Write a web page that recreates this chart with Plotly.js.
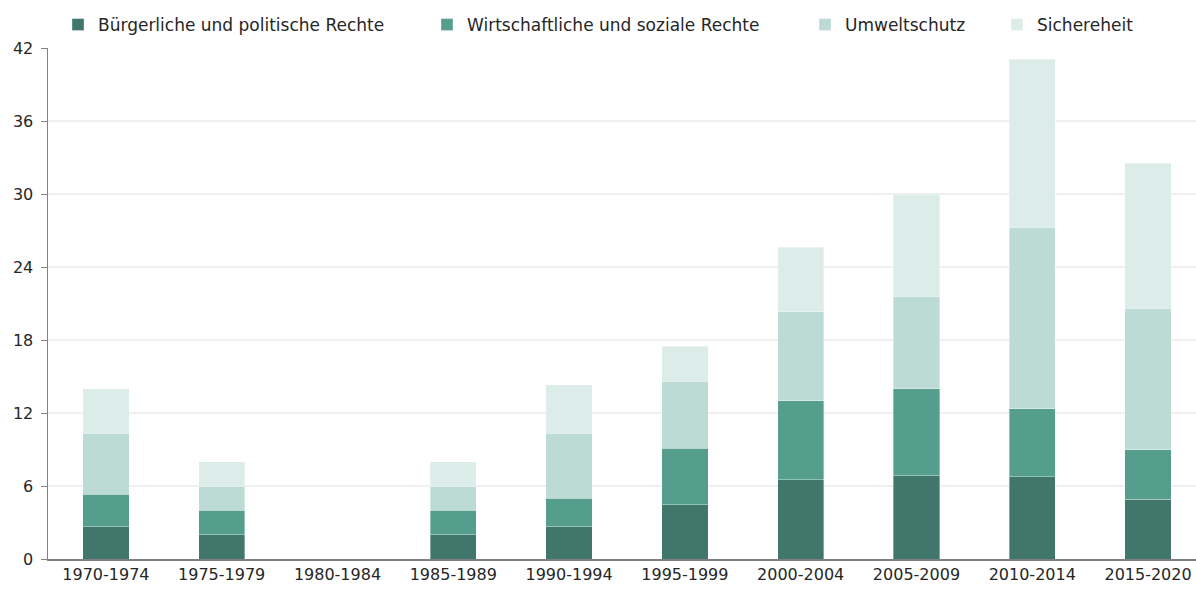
<!DOCTYPE html>
<html>
<head>
<meta charset="utf-8">
<script src="https://cdn.plot.ly/plotly-3.0.1.min.js"></script>
<style>
html,body{margin:0;padding:0;background:#fff;}
#chart{width:1196px;height:590px;}
</style>
</head>
<body>
<div id="chart"></div>
<script>
const categories = ['1970-1974','1975-1979','1980-1984','1985-1989','1990-1994','1995-1999','2000-2004','2005-2009','2010-2014','2015-2020'];
const seriesNames = ['Bürgerliche und politische Rechte','Wirtschaftliche und soziale Rechte','Umweltschutz','Sichereheit'];
const buergerlich = [2.67, 2, 0, 2, 2.67, 4.47, 6.5, 6.83, 6.75, 4.93];
const wirtschaft  = [2.67, 2, 0, 2, 2.33, 4.65, 6.5, 7.17, 5.6, 4.06];
const umwelt      = [5.0, 2, 0, 2, 5.33, 5.5, 7.33, 7.6, 14.93, 11.62];
const sicherheit  = [3.67, 2, 0, 2, 4.0, 2.85, 5.3, 8.4, 13.8, 11.9];
const yTicks = [0, 6, 12, 18, 24, 30, 36, 42];

const colors = ['#41766c', '#559e8e', '#bcdbd5', '#dcece8'];
const values = [buergerlich, wirtschaft, umwelt, sicherheit];
const legendIds = ['legend', 'legend2', 'legend3', 'legend4'];
const legendX = [58, 427, 805, 997]; // pixel positions of legend boxes

const plotLeft = 48, plotWidth = 1148;
const font = {family: 'DejaVu Sans, sans-serif', size: 16, color: '#262626'};
const legendFont = {family: 'DejaVu Sans, sans-serif', size: 17, color: '#262626'};

const traces = values.map((v, i) => ({
  type: 'bar',
  name: seriesNames[i],
  x: categories,
  y: v,
  marker: {color: colors[i], line: {color: 'rgba(255,255,255,0.6)', width: 0.6}},
  legend: legendIds[i],
  hoverinfo: 'x+y+name'
}));

const layout = {
  width: 1196, height: 590,
  margin: {l: 48, r: 0, t: 48, b: 31},
  paper_bgcolor: '#ffffff', plot_bgcolor: '#ffffff',
  barmode: 'stack',
  bargap: 0.6,
  font: font,
  xaxis: {
    type: 'category',
    range: [-0.5, 9.414],
    showline: true, linecolor: '#808080', linewidth: 1.5,
    ticks: '', showgrid: false,
    tickfont: font
  },
  yaxis: {
    range: [0, 42],
    tickvals: yTicks,
    ticktext: yTicks.map(String),
    showline: true, linecolor: '#808080', linewidth: 1.5,
    ticks: 'outside', ticklen: 6, tickcolor: '#808080', tickwidth: 1,
    showgrid: true, gridcolor: '#efefef', gridwidth: 1.5,
    zeroline: false,
    tickfont: font,
    ticklabelstandoff: 4
  },
  showlegend: true
};

legendIds.forEach((id, i) => {
  layout[id] = {
    orientation: 'h',
    x: (legendX[i] - plotLeft) / plotWidth,
    xanchor: 'left',
    y: 1.045, yanchor: 'middle',
    font: legendFont,
    bgcolor: 'rgba(0,0,0,0)',
    itemwidth: 30
  };
});

Plotly.newPlot('chart', traces, layout, {displayModeBar: false, staticPlot: true});
</script>
</body>
</html>
